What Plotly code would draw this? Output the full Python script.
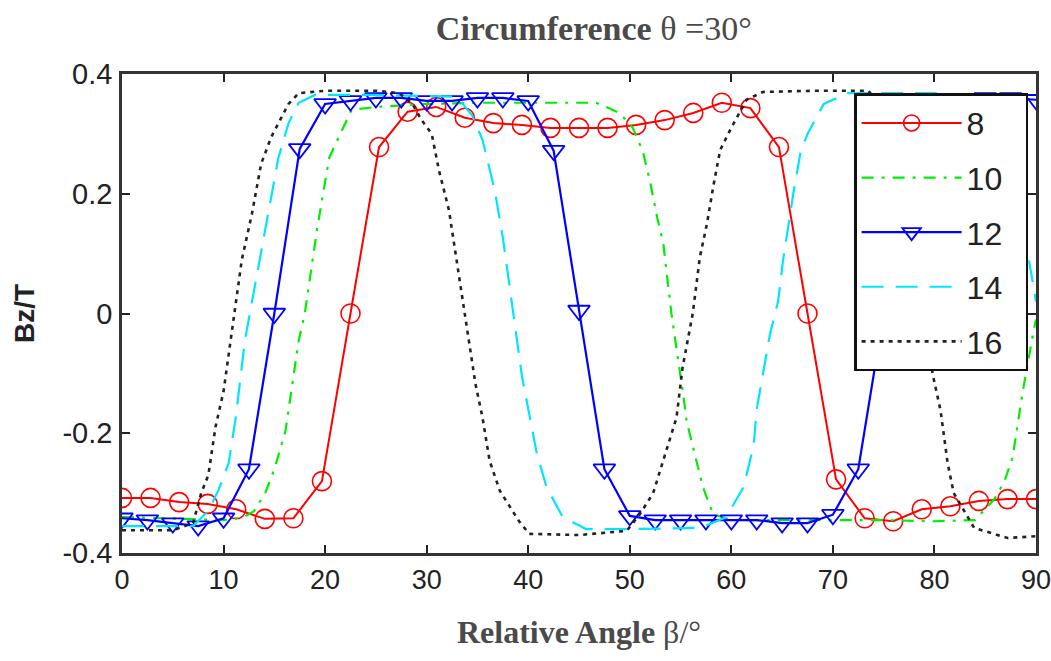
import plotly.graph_objects as go

# ---------------- data ----------------
# 8 poles (red, circles) - sampled every 2.8125 deg
x8 = [0, 2.8125, 5.625, 8.4375, 11.25, 14.0625, 16.875, 19.6875, 22.5, 25.3125,
      28.125, 30.9375, 33.75, 36.5625, 39.375, 42.1875, 45, 47.8125, 50.625,
      53.4375, 56.25, 59.0625, 61.875, 64.6875, 67.5, 70.3125, 73.125, 75.9375,
      78.75, 81.5625, 84.375, 87.1875, 90]
y8 = [-0.308, -0.308, -0.315, -0.318, -0.327, -0.343, -0.342, -0.280, 0.000, 0.278,
      0.337, 0.345, 0.327, 0.318, 0.315, 0.310, 0.310, 0.310, 0.315,
      0.323, 0.335, 0.352, 0.343, 0.278, 0.000, -0.277, -0.342, -0.347,
      -0.327, -0.322, -0.313, -0.310, -0.310]

# 10 poles (green, dash-dot)
x10 = [0, 5, 10, 12, 13, 14.1, 15, 16.1, 17.4, 18, 19.2, 20.4, 22, 22.6, 25, 30, 35,
       40, 43, 46.7, 49, 50.3, 51.3, 52, 52.7, 53.3, 54.1, 54.7, 55.3, 55.6, 56.3,
       57.2, 58.2, 60, 65, 70, 75, 80, 84, 85.9, 86.9, 87.7, 88.7, 89.7, 90]
y10 = [-0.340, -0.342, -0.345, -0.340, -0.330, -0.300, -0.260, -0.196, -0.045, 0.000,
       0.140, 0.260, 0.318, 0.340, 0.345, 0.350, 0.352, 0.352, 0.352, 0.352, 0.335,
       0.310, 0.270, 0.220, 0.160, 0.117, 0.000, -0.067, -0.140, -0.180, -0.230,
       -0.290, -0.335, -0.345, -0.345, -0.345, -0.345, -0.347, -0.345, -0.310,
       -0.280, -0.240, -0.130, -0.035, -0.010]

# 12 poles (blue, triangles) - sampled every 2.5 deg
x12 = [0, 2.5, 5, 7.5, 10, 12.5, 15, 17.5, 20, 22.5, 25, 27.5, 30, 32.5, 35, 37.5,
       40, 42.5, 45, 47.5, 50, 52.5, 55, 57.5, 60, 62.5, 65, 67.5, 70, 72.5, 75,
       77.5, 80, 82.5, 85, 87.5, 90]
y12 = [-0.342, -0.345, -0.350, -0.355, -0.342, -0.260, 0.000, 0.275, 0.350, 0.355,
       0.360, 0.360, 0.355, 0.355, 0.360, 0.360, 0.355, 0.272, 0.005, -0.260,
       -0.338, -0.345, -0.345, -0.345, -0.345, -0.345, -0.350, -0.350, -0.336,
       -0.260, 0.000, 0.272, 0.350, 0.355, 0.360, 0.360, 0.357]

# 14 poles (cyan, long dash)
x14 = [0, 7, 8.5, 9.5, 10.5, 11.2, 12.1, 12.8, 13.4, 14.4, 15.4, 16.4, 17.4, 19, 25,
       33, 34.5, 35.5, 36.7, 37.5, 38.5, 39.4, 40.1, 40.8, 41.8, 43.4, 45.7, 50, 57,
       59.5, 61.2, 62.2, 62.5, 63.2, 63.8, 64.6, 65.1, 66.1, 66.8, 67.5, 69.1, 71.4,
       80, 84.5, 86, 87, 88, 89, 90]
y14 = [-0.355, -0.355, -0.330, -0.295, -0.250, -0.174, -0.045, 0.020, 0.080, 0.167,
       0.260, 0.318, 0.352, 0.365, 0.365, 0.362, 0.330, 0.290, 0.206, 0.127, 0.000,
       -0.107, -0.168, -0.230, -0.290, -0.340, -0.360, -0.360, -0.358, -0.340,
       -0.290, -0.220, -0.160, -0.090, -0.035, 0.020, 0.090, 0.200, 0.268, 0.300,
       0.350, 0.368, 0.368, 0.362, 0.330, 0.270, 0.200, 0.120, 0.020]

# 16 poles (black, dotted)
x16 = [0, 5, 7, 7.8, 8.5, 9.2, 10, 10.7, 11.1, 11.8, 12.8, 13.7, 14.7, 16.4, 17.4,
       20, 25, 27.3, 28.6, 29.5, 30.5, 31.2, 32.2, 32.9, 33.7, 34.2, 34.8, 35.5, 36.2,
       37.2, 39.1, 40.1, 45, 49.7, 51, 52.3, 53.6, 54.6, 55.2, 56.2, 56.9, 57.6, 58.2,
       58.9, 59.9, 61.5, 63.1, 68, 73.5, 75, 76.2, 77.3, 78.7, 79.9, 80.6, 81.3, 81.9,
       83.9, 87.2, 90]
y16 = [-0.362, -0.362, -0.350, -0.300, -0.270, -0.190, -0.130, -0.045, 0.010, 0.090,
       0.167, 0.250, 0.295, 0.350, 0.368, 0.372, 0.372, 0.368, 0.350, 0.323, 0.300,
       0.240, 0.172, 0.094, 0.005, -0.045, -0.117, -0.174, -0.246, -0.296, -0.347,
       -0.368, -0.370, -0.363, -0.335, -0.300, -0.230, -0.174, -0.090, 0.000, 0.094,
       0.150, 0.210, 0.273, 0.307, 0.357, 0.370, 0.372, 0.372, 0.340, 0.270, 0.160,
       0.000, -0.107, -0.162, -0.250, -0.300, -0.358, -0.375, -0.372]

series_names = ["8", "10", "12", "14", "16"]
x_ticks = [0, 10, 20, 30, 40, 50, 60, 70, 80, 90]
y_ticks = [-0.4, -0.2, 0, 0.2, 0.4]
y_tick_text = ["-0.4", "-0.2", "0", "0.2", "0.4"]

PAD = "\u00a0" * 2  # keeps the legend box as wide as in the reference

# ---------------- figure ----------------
fig = go.Figure()

fig.add_trace(go.Scatter(
    x=x8, y=y8, name=series_names[0] + PAD + "\u00a0", legendgroup="a",
    mode="lines+markers",
    line=dict(color="#ff0000", width=2),
    marker=dict(symbol="circle-open", size=19, color="#ff0000", line=dict(width=1.6)),
))
fig.add_trace(go.Scatter(
    x=x10, y=y10, name=series_names[1] + PAD, legendgroup="b",
    mode="lines",
    line=dict(color="#00ee00", width=2.2, dash="12px,8px,3px,8px"),
))
fig.add_trace(go.Scatter(
    x=x12, y=y12, name=series_names[2] + PAD, legendgroup="c",
    mode="lines+markers",
    line=dict(color="#0000ff", width=2.2),
    marker=dict(symbol="triangle-down-open", size=19, color="#0000ff", line=dict(width=1.8)),
))
fig.add_trace(go.Scatter(
    x=x14, y=y14, name=series_names[3] + PAD, legendgroup="d",
    mode="lines",
    line=dict(color="#00e5ff", width=2.2, dash="22px,12px"),
))
fig.add_trace(go.Scatter(
    x=x16, y=y16, name=series_names[4] + PAD, legendgroup="e",
    mode="lines",
    line=dict(color="#222222", width=2.6, dash="4px,5px"),
))

x_tick_font = dict(family="Liberation Sans, Arial, sans-serif", size=27, color="#222222")
y_tick_font = dict(family="Liberation Sans, Arial, sans-serif", size=29, color="#222222")

fig.update_layout(
    width=1051, height=661,
    paper_bgcolor="white", plot_bgcolor="white",
    margin=dict(l=122, r=15, t=74, b=108, autoexpand=False),
    title=dict(
        text="<b>Circumference</b> θ =30°",
        x=0.565, xanchor="center", y=0.958, yanchor="middle",
        font=dict(family="Liberation Serif, Times New Roman, serif", size=34, color="#4a4a4a"),
    ),
    showlegend=True,
    legend=dict(
        x=0.801, y=0.96, xanchor="left", yanchor="top",
        bgcolor="white", bordercolor="#111111", borderwidth=2.5,
        font=dict(family="Liberation Sans, Arial, sans-serif", size=32, color="#222222"),
        itemwidth=100, tracegroupgap=10,
    ),
)

fig.update_xaxes(
    range=[0, 90], tickvals=x_ticks,
    showgrid=False, zeroline=False, automargin=False,
    showline=True, linecolor="#333333", linewidth=2.5, mirror="ticks",
    ticks="inside", ticklen=8, tickwidth=2, tickcolor="#222222",
    tickfont=x_tick_font, ticklabelstandoff=1, ticklabeloverflow="allow",
    title=dict(text="<b>Relative Angle</b> β/°",
               font=dict(family="Liberation Serif, Times New Roman, serif", size=32, color="#4a4a4a"),
               standoff=27),
)
fig.update_yaxes(
    range=[-0.4, 0.4], tickvals=y_ticks, ticktext=y_tick_text,
    showgrid=False, zeroline=False, automargin=False,
    showline=True, linecolor="#333333", linewidth=2.5, mirror="ticks",
    ticks="inside", ticklen=8, tickwidth=2, tickcolor="#222222",
    tickfont=y_tick_font, ticklabelstandoff=1, ticklabeloverflow="allow",
    title=dict(text="<b>Bz/T</b>",
               font=dict(family="Liberation Sans, Arial, sans-serif", size=28, color="#222222"),
               standoff=20),
)

# remove the browser's default 8px body margin so the figure fills the window
fig.write_html(
    "out.html",
    config={"displayModeBar": False},
    post_script="document.body.style.margin='0px';document.body.style.overflow='hidden';",
)
